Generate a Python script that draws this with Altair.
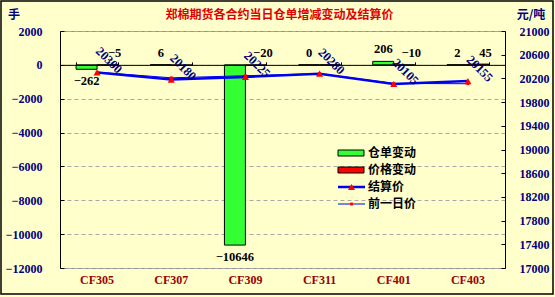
import altair as alt
import pandas as pd

# Contracts and daily figures
contracts = ["CF305", "CF307", "CF309", "CF311", "CF401", "CF403"]
receipt_change = [-262, 6, -10646, 0, 206, 2]          # 仓单变动 (手)
price_change = [-5, -30, -20, 0, -10, 45]             # 价格变动 (元/吨)
settle_price = [20300, 20180, 20225, 20280, 20105, 20155]   # 结算价
prev_price = [20305, 20210, 20245, 20280, 20115, 20110]     # 前一日价
hidden_change_labels = ["CF307", "CF311"]

series_names = ["仓单变动", "价格变动"]
line_names = ["结算价", "前一日价"]
left_ticks = [-12000, -10000, -8000, -6000, -4000, -2000, 0, 2000]
right_ticks = [17000, 17400, 17800, 18200, 18600, 19000, 19400, 19800, 20200, 20600, 21000]
title_text = "郑棉期货各合约当日仓单增减变动及结算价"
left_unit = "手"
right_unit = "元/吨"

W, H = 445, 237
LEFT_DOMAIN = [left_ticks[0], left_ticks[-1]]
RIGHT_DOMAIN = [right_ticks[0], right_ticks[-1]]
zero_px = H * LEFT_DOMAIN[1] / (LEFT_DOMAIN[1] - LEFT_DOMAIN[0])

BG = "#FFFFCC"
NAVY = "#000080"
DARKRED = "#990000"
NUM_FONT = "Liberation Serif"
CJK_FONT = "Noto Sans CJK SC"

bars_df = pd.DataFrame(
    {
        "cat": contracts * 2,
        "series": [series_names[0]] * 6 + [series_names[1]] * 6,
        "value": receipt_change + price_change,
    }
)
price_df = pd.DataFrame(
    {"cat": contracts, "settle": settle_price, "prev": prev_price}
)


def left_y(field, axis=None):
    return alt.Y(field, scale=alt.Scale(domain=LEFT_DOMAIN, nice=False, zero=False), axis=axis)


def right_y(field, axis=None):
    return alt.Y(field, scale=alt.Scale(domain=RIGHT_DOMAIN, nice=False, zero=False), axis=axis)


def cat_x(axis=None, scale=None):
    if scale is None:
        return alt.X("cat:N", sort=contracts, axis=axis, title=None)
    return alt.X("cat:N", sort=contracts, axis=axis, scale=scale, title=None)


x_offset = alt.XOffset("series:N", sort=series_names,
                       scale=alt.Scale(paddingInner=0, paddingOuter=0))

# Clustered bars on the left axis
bars = alt.Chart(bars_df).mark_bar(stroke="black", strokeWidth=1).encode(
    x=cat_x(
        axis=alt.Axis(orient="bottom", ticks=False, domain=False, labelAngle=0,
                      labelColor=DARKRED, labelFont=NUM_FONT, labelFontSize=12,
                      labelFontWeight="bold", labelPadding=6, grid=False),
        scale=alt.Scale(paddingInner=0.434, paddingOuter=0.217),
    ),
    xOffset=x_offset,
    y=left_y("value:Q", axis=alt.Axis(
        orient="left", values=left_ticks, format="d", ticks=False, domain=True, domainColor="black",
        labelColor=NAVY, labelFont=NUM_FONT, labelFontSize=12, labelFontWeight="bold",
        labelPadding=18, grid=True, gridColor="#A8A8A8", gridDash=[4, 3], title=None)),
    color=alt.Color("series:N", scale=alt.Scale(domain=series_names, range=["#33FF33", "#FF0000"]), legend=None),
)

# Inside ticks of the left axis
left_tick_marks = alt.Chart(bars_df).mark_bar(opacity=0).encode(
    x=cat_x(), xOffset=x_offset,
    y=left_y("value:Q", axis=alt.Axis(
        orient="right", offset=-W, values=left_ticks, labels=False, domain=False,
        ticks=True, tickSize=4, tickColor="black", grid=False, title=None)),
)

label_style = dict(font=NUM_FONT, fontSize=12.5, fontWeight="bold", color="black", baseline="middle")

green_pos = alt.Chart(bars_df).transform_filter(
    f"datum.series == '{series_names[0]}' && datum.value >= 0"
).mark_text(dy=-12, **label_style).encode(
    x=cat_x(), xOffset=x_offset, y=left_y("value:Q"), text="value:Q")

green_neg = alt.Chart(bars_df).transform_filter(
    f"datum.series == '{series_names[0]}' && datum.value < 0"
).mark_text(dy=12, **label_style).encode(
    x=cat_x(), xOffset=x_offset, y=left_y("value:Q"), text="value:Q")

# Price-change labels sit above the zero line; this layer also carries the
# zero-line axis with its category separator ticks.
red_labels = alt.Chart(bars_df).transform_filter(
    f"datum.series == '{series_names[1]}' && indexof({hidden_change_labels}, datum.cat) < 0"
).transform_calculate(zero="0").mark_text(dy=-12, dx=7, **label_style).encode(
    x=cat_x(axis=alt.Axis(orient="top", offset=-zero_px, labels=False, ticks=True,
                          tickSize=3, tickBand="extent", tickColor="black",
                          domain=True, domainColor="black", grid=False, zindex=1)),
    xOffset=x_offset,
    y=left_y("zero:Q"),
    text="value:Q",
)

# Price lines on the right axis
settle_line = alt.Chart(price_df).mark_line(color="#0000EE", strokeWidth=2.5).encode(
    x=cat_x(),
    y=right_y("settle:Q", axis=alt.Axis(
        orient="right", values=right_ticks, format="d", ticks=False, domain=True, domainColor="black",
        labelColor=NAVY, labelFont=NUM_FONT, labelFontSize=12, labelFontWeight="bold",
        labelPadding=14, grid=False, title=None)),
)
prev_line = alt.Chart(price_df).mark_line(color="#0000EE", strokeWidth=1).encode(
    x=cat_x(),
    y=right_y("prev:Q", axis=alt.Axis(
        orient="left", offset=-W, values=right_ticks, labels=False, domain=False,
        ticks=True, tickSize=4, tickColor="black", grid=False, title=None)),
)
prev_pts = alt.Chart(price_df).mark_point(shape="square", filled=True, color="#FF0000", size=8, opacity=1).encode(
    x=cat_x(), y=right_y("prev:Q"))
settle_pts = alt.Chart(price_df).mark_point(shape="triangle-up", filled=True, color="#FF0000", size=50, opacity=1).encode(
    x=cat_x(), y=right_y("settle:Q"))
settle_labels = alt.Chart(price_df).mark_text(
    angle=45, align="left", baseline="middle", dx=-16, dy=-17,
    font=NUM_FONT, fontSize=12.5, fontWeight="bold", color=NAVY,
).encode(x=cat_x(), y=right_y("settle:Q"), text="settle:Q")

# Title and unit captions
one = pd.DataFrame({"k": [0]})
cjk = dict(font=CJK_FONT, fontWeight="bold", baseline="middle")
title = alt.Chart(one).mark_text(fontSize=12, color="#E00000", align="center", **cjk).encode(
    x=alt.value(W / 2 - 3), y=alt.value(-16), text=alt.value(title_text))
unit_l = alt.Chart(one).mark_text(fontSize=12, color=NAVY, align="center", **cjk).encode(
    x=alt.value(-46), y=alt.value(-16), text=alt.value(left_unit))
unit_r = alt.Chart(one).mark_text(fontSize=12, color=NAVY, align="center", **cjk).encode(
    x=alt.value(471), y=alt.value(-16), text=alt.value(right_unit))

# Hand-drawn legend
LX0, LX1, LY0, LSTEP = 278, 305, 122, 17
legend_layers = []
for i, (name, col) in enumerate(zip(series_names, ["#33FF33", "#FF0000"])):
    yy = LY0 + i * LSTEP
    legend_layers.append(alt.Chart(one).mark_rect(fill=col, stroke="black", strokeWidth=1).encode(
        x=alt.value(LX0), x2=alt.value(LX1 - 1), y=alt.value(yy - 3), y2=alt.value(yy + 3)))
for i, name in enumerate(line_names):
    yy = LY0 + (i + 2) * LSTEP
    legend_layers.append(alt.Chart(one).mark_rule(color="#0000EE", strokeWidth=2.5 if i == 0 else 1).encode(
        x=alt.value(LX0), x2=alt.value(LX1), y=alt.value(yy)))
    legend_layers.append(alt.Chart(one).mark_point(
        shape="triangle-up" if i == 0 else "square", filled=True, color="#FF0000",
        size=50 if i == 0 else 8, opacity=1).encode(
        x=alt.value((LX0 + LX1) / 2), y=alt.value(yy)))
for i, name in enumerate(series_names + line_names):
    legend_layers.append(alt.Chart(one).mark_text(fontSize=12, color="black", align="left", **cjk).encode(
        x=alt.value(LX1 + 3), y=alt.value(LY0 + i * LSTEP), text=alt.value(name)))

# Outer frame
frame = alt.Chart(one).mark_rect(fill=None, stroke="black", strokeWidth=1.5).encode(
    x=alt.value(-59), x2=alt.value(W + 48), y=alt.value(-30), y2=alt.value(H + 26))

chart = alt.layer(
    bars, left_tick_marks, red_labels, prev_line, settle_line, prev_pts, settle_pts,
    green_pos, green_neg, settle_labels, title, unit_l, unit_r, *legend_layers, frame,
).resolve_scale(y="independent").properties(
    width=W, height=H,
    padding={"left": 60, "top": 31, "right": 50, "bottom": 29},
    autosize=alt.AutoSizeParams(type="none"),
    background=BG,
).configure_view(stroke="#909090", fill=BG)

chart.save("out.html", embed_options={"renderer": "svg", "actions": False})
